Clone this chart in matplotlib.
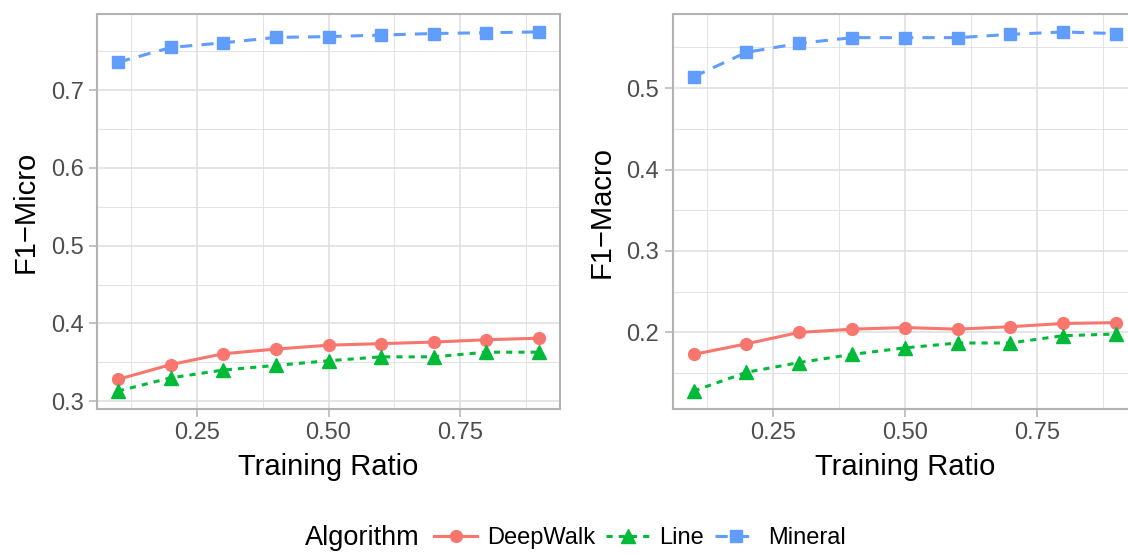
#!/usr/bin/env python3

import matplotlib
matplotlib.use("Agg")
from matplotlib import pyplot as plt
from matplotlib.ticker import MultipleLocator, FormatStrFormatter

ratios = [0.1, 0.2, 0.3, 0.4, 0.5, 0.6, 0.7, 0.8, 0.9]

micro_deepwalk = [0.328, 0.347, 0.361, 0.367, 0.372, 0.374, 0.376, 0.379, 0.381]
micro_line = [0.313, 0.330, 0.340, 0.346, 0.352, 0.357, 0.357, 0.363, 0.363]
micro_mineral = [0.736, 0.755, 0.761, 0.768, 0.769, 0.771, 0.773, 0.774, 0.775]

macro_deepwalk = [0.173, 0.186, 0.200, 0.204, 0.206, 0.204, 0.207, 0.211, 0.212]
macro_line = [0.128, 0.151, 0.163, 0.173, 0.181, 0.187, 0.187, 0.196, 0.198]
macro_mineral = [0.514, 0.544, 0.555, 0.562, 0.562, 0.562, 0.566, 0.569, 0.567]

x_ticks = [0.25, 0.50, 0.75]
x_tick_labels = ["0.25", "0.50", "0.75"]

RED = "#F8766D"
GREEN = "#00BA38"
BLUE = "#619CFF"
BORDER = "#B3B3B3"
GRID = "#DEDEDE"

plt.rcParams['font.family'] = ['Liberation Sans', 'DejaVu Sans']


def style_panel(ax, ylabel):
    ax.margins(x=0.05, y=0.05)
    ax.set_xticks(x_ticks)
    ax.set_xticklabels(x_tick_labels)
    ax.xaxis.set_minor_locator(MultipleLocator(0.125))
    ax.yaxis.set_major_locator(MultipleLocator(0.1))
    ax.yaxis.set_minor_locator(MultipleLocator(0.05))
    ax.yaxis.set_major_formatter(FormatStrFormatter('%.1f'))
    ax.grid(True, which='major', color=GRID, linewidth=1.1)
    ax.grid(True, which='minor', color=GRID, linewidth=0.6)
    ax.set_axisbelow(True)
    for s in ax.spines.values():
        s.set_color(BORDER)
        s.set_linewidth(1.5)
    ax.tick_params(which='major', length=5.5, width=1.1, color=BORDER,
                   labelsize=17, labelcolor="#4D4D4D", pad=4)
    ax.tick_params(which='minor', length=0)
    ax.set_xlabel("Training Ratio", fontsize=21, labelpad=6)
    ax.set_ylabel(ylabel, fontsize=21, labelpad=8)


def draw(ax, deepwalk, line, mineral):
    ax.plot(ratios, deepwalk, color=RED, linewidth=2.2, marker='o',
            markersize=8.5, label="DeepWalk")
    ax.plot(ratios, line, color=GREEN, linewidth=2.2, marker='^',
            markersize=9.5, dashes=(2, 2), label="Line")
    ax.plot(ratios, mineral, color=BLUE, linewidth=2.2, marker='s',
            markersize=8.5, dashes=(4, 3), label="Mineral")


def main():
    fig = plt.figure(figsize=(11.28, 5.54), dpi=100)
    ax1 = fig.add_axes([97 / 1128, 1 - 409 / 554, 463 / 1128, 395 / 554])
    ax2 = fig.add_axes([672.5 / 1128, 1 - 409 / 554, 464.5 / 1128, 395 / 554])

    draw(ax1, micro_deepwalk, micro_line, micro_mineral)
    draw(ax2, macro_deepwalk, macro_line, macro_mineral)
    style_panel(ax1, "F1\u2212Micro")
    style_panel(ax2, "F1\u2212Macro")

    handles, labels = ax1.get_legend_handles_labels()
    fig.text(305 / 1128, 1 - 538 / 554, "Algorithm", fontsize=19.5,
             ha='left', va='center')
    fig.legend(handles, labels, loc='center', ncol=3,
               bbox_to_anchor=(640 / 1128, 1 - 538 / 554), frameon=False,
               fontsize=17, handlelength=1.8, handletextpad=0.45,
               columnspacing=0.45, borderpad=0)

    fig.savefig("out.png", dpi=100)


if __name__ == "__main__":
    main()
